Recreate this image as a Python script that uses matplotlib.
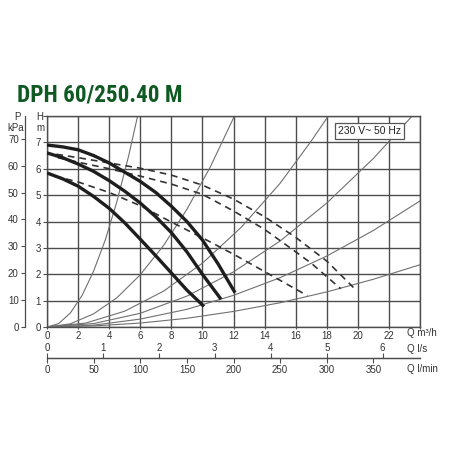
import numpy as np
import matplotlib
matplotlib.use('Agg')
from matplotlib import pyplot as plt
from matplotlib import font_manager

plt.rcParams['font.family'] = ['Liberation Sans', 'DejaVu Sans']

# pump curves (Q m3/h, H m) - solid = max/mid/min speed
q_sp3 = [0, 1, 2, 3, 4, 5, 6, 7, 8, 9, 10, 11, 12.1]
h_sp3 = [6.9, 6.83, 6.72, 6.5, 6.22, 5.87, 5.52, 5.1, 4.58, 4.0, 3.3, 2.4, 1.3]
q_sp2 = [0, 1, 2, 3, 4, 5, 6, 7, 8, 9, 10, 11.2]
h_sp2 = [6.6, 6.42, 6.18, 5.9, 5.55, 5.15, 4.7, 4.18, 3.58, 2.85, 2.0, 1.05]
q_sp1 = [0, 1, 2, 3, 4, 5, 6, 7, 8, 9, 10.1]
h_sp1 = [5.84, 5.62, 5.34, 4.95, 4.5, 3.95, 3.33, 2.7, 2.05, 1.4, 0.78]

# dashed curves
q_d3 = [0.6, 2, 4, 6, 8, 10, 12, 14, 16, 18, 19.8]
h_d3 = [6.55, 6.42, 6.22, 6.02, 5.76, 5.38, 4.85, 4.18, 3.4, 2.5, 1.45]
q_d2 = [0.7, 2, 4, 6, 8, 10, 12, 14, 16, 17, 18.9]
h_d2 = [6.42, 6.25, 6.0, 5.72, 5.42, 5.03, 4.4, 3.7, 2.85, 2.42, 1.45]
q_d1 = [0.5, 2, 4, 6, 8, 10, 12, 14, 16.75]
h_d1 = [5.72, 5.5, 5.1, 4.6, 3.98, 3.38, 2.76, 2.1, 1.19]

# system curves (thin)
sys_curves = [
    ([0, 0.75, 1.5, 2.25, 3, 3.75, 4.5, 5.25, 5.83],
     [0, 0.13, 0.53, 1.19, 2.12, 3.3, 4.76, 6.48, 8.0]),
    ([0, 1.5, 3, 4.5, 6, 7.5, 9, 10.5, 12.06],
     [0, 0.12, 0.5, 1.11, 1.98, 3.09, 4.46, 6.06, 8.0]),
    ([0, 2.5, 5, 7.5, 10, 12.5, 15, 17, 18.1],
     [0, 0.15, 0.6, 1.36, 2.42, 3.78, 5.45, 7.05, 8.0]),
    ([0, 3, 6, 9, 12, 15, 18, 21, 23.5],
     [0, 0.13, 0.52, 1.17, 2.09, 3.26, 4.7, 6.39, 8.0]),
    ([0, 3, 6, 9, 12, 15, 18, 21, 24],
     [0, 0.07, 0.3, 0.67, 1.2, 1.87, 2.69, 3.66, 4.78]),
    ([0, 3, 6, 9, 12, 15, 18, 21, 24],
     [0, 0.04, 0.15, 0.33, 0.59, 0.92, 1.33, 1.81, 2.36]),
]

q_ticks = list(range(0, 25, 2))
q_labels = [str(v) for v in range(0, 23, 2)] + ['']
h_ticks = list(range(0, 9))
h_labels = [str(v) for v in range(0, 8)] + ['']
p_ticks = list(range(0, 80, 10))
ls_ticks = [0, 1, 2, 3, 4, 5, 6]
lmin_ticks = [0, 50, 100, 150, 200, 250, 300, 350]

grid_c = '#4d4d4d'
txt_c = '#333333'
fs = 7


def narrow_family():
    # look for a condensed / narrow sans face, else plain Liberation Sans
    names = {f.name for f in font_manager.fontManager.ttflist}
    for n in ['Liberation Sans Narrow', 'Roboto Condensed', 'Open Sans Condensed',
              'DejaVu Sans Condensed']:
        if n in names:
            return n, 'normal'
    for f in font_manager.fontManager.ttflist:
        if f.name == 'DejaVu Sans' and f.stretch in ('condensed', 'semi-condensed'):
            return 'DejaVu Sans', 'condensed'
    return 'Liberation Sans', 'normal'


narrow, stretch = narrow_family()

fig = plt.figure(figsize=(4.5, 4.5), dpi=100)
ax = fig.add_axes([47/450, 123/450, 373/450, 211/450])
ax.set_xlim(0, 24)
ax.set_ylim(0, 8)
ax.set_xticks(q_ticks)
ax.set_xticklabels(q_labels)
ax.set_yticks(h_ticks)
ax.set_yticklabels(h_labels)
ax.grid(True, color=grid_c, lw=1.0)
ax.set_axisbelow(True)
for s in ax.spines.values():
    s.set_color(grid_c)
    s.set_linewidth(1.0)
ax.tick_params(labelsize=fs, length=3, width=0.8, color=grid_c, pad=1.5, labelcolor=txt_c)
ax.tick_params(axis='x', length=1.5, pad=1.5)

for q, h in sys_curves:
    ax.plot(q, h, color='#707070', lw=0.8, zorder=2)

for q, h in [(q_d3, h_d3), (q_d2, h_d2), (q_d1, h_d1)]:
    ax.plot(q, h, color='#333333', lw=1.2, ls=(0, (4, 3)), zorder=3)

for q, h in [(q_sp3, h_sp3), (q_sp2, h_sp2), (q_sp1, h_sp1)]:
    ax.plot(q, h, color='#1e1e1e', lw=2.4, solid_capstyle='butt', zorder=4)

# pressure axis on the far left
pax = ax.secondary_yaxis(-22/373, functions=(lambda h: h * 9.81, lambda p: p / 9.81))
pax.set_yticks(p_ticks)
pax.tick_params(labelsize=fs, length=3, width=0.8, color=grid_c, pad=1.5, labelcolor=txt_c)
pax.spines['left'].set_color(grid_c)
pax.spines['left'].set_linewidth(0.9)

# flow axes below
lsax = ax.secondary_xaxis(-31/211, functions=(lambda q: q / 3.6, lambda v: v * 3.6))
lsax.set_alignment('top')
lsax.set_xticks(ls_ticks)
lsax.tick_params(labelsize=fs, length=3.5, width=0.8, color=grid_c, pad=0.3, labelcolor=txt_c)
lsax.spines['top'].set_color(grid_c)
lsax.spines['top'].set_linewidth(0.9)

lmax = ax.secondary_xaxis(-31/211, functions=(lambda q: q * 1000 / 60, lambda v: v * 60 / 1000))
lmax.set_xticks(lmin_ticks)
lmax.tick_params(labelsize=fs, length=3.5, width=0.8, color=grid_c, pad=1.2, labelcolor=txt_c)
lmax.spines['bottom'].set_color(grid_c)
lmax.spines['bottom'].set_linewidth(0.9)

# title, squeezed to the reference width
title = fig.text(17/450, 1 - 95/450, 'DPH 60/250.40 M', fontsize=20, weight='bold',
                 family=[narrow, 'DejaVu Sans'], stretch=stretch,
                 color='#0f5a23', va='center', ha='left')
fig.canvas.draw()
w = title.get_window_extent().width
title.set_fontsize(20 * 165 / w)

fig.text(40/450, 1 - 117/450, 'H', fontsize=fs, color=txt_c, ha='center', va='center')
fig.text(40/450, 1 - 128/450, 'm', fontsize=fs, color=txt_c, ha='center', va='center')
fig.text(17/450, 1 - 117/450, 'P', fontsize=fs, color=txt_c, ha='center', va='center')
fig.text(16/450, 1 - 128/450, 'kPa', fontsize=fs, color=txt_c, ha='center', va='center')
fig.text(407/450, 1 - 333/450, 'Q m³/h', fontsize=fs, color=txt_c, ha='left', va='center')
fig.text(407/450, 1 - 349/450, 'Q l/s', fontsize=fs, color=txt_c, ha='left', va='center')
fig.text(407/450, 1 - 369/450, 'Q l/min', fontsize=fs, color=txt_c, ha='left', va='center')
ax.text(22.8, 7.42, '230 V~ 50 Hz', fontsize=7.5, color='#222222', ha='right', va='center',
        bbox=dict(boxstyle='square,pad=0.3', fc='white', ec='#555555', lw=0.9), zorder=6)

fig.savefig('out.png', dpi=100)
